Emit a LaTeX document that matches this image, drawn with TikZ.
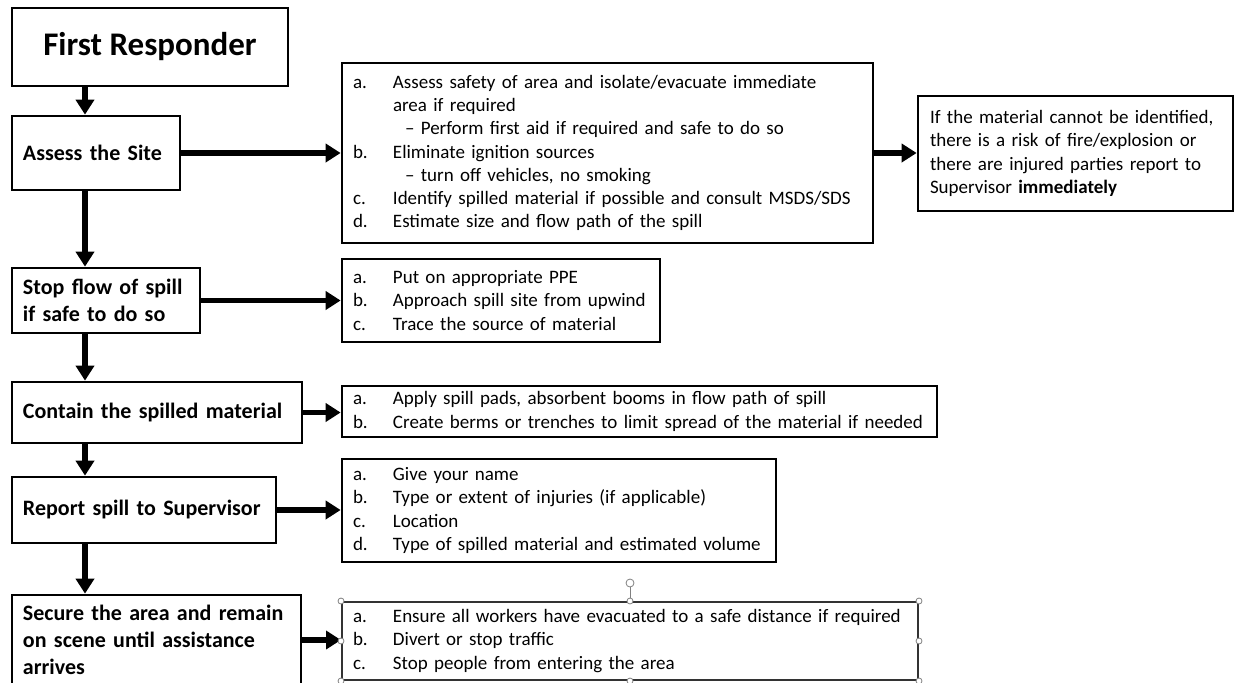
\documentclass[tikz,border=0pt]{standalone}
\usepackage{fontspec}
\setmainfont{Carlito}
\usetikzlibrary{arrows.meta,positioning}

\newcommand{\itm}[2]{\mbox{\makebox[40pt][l]{#1}#2}}
\newcommand{\cont}[1]{\mbox{\hspace*{40pt}#1}}
\newcommand{\subitm}[1]{\mbox{\hspace*{52pt}#1}}

\begin{document}
\begin{tikzpicture}[x=1pt, y=-1pt,
    stepbox/.style={rectangle, draw, line width=2.7pt, inner xsep=11pt, inner ysep=0pt, align=left, font=\fontsize{22}{27}\selectfont\bfseries},
    listbox/.style={rectangle, draw, line width=2.7pt, inner xsep=11pt, inner ysep=0pt, align=left, font=\fontsize{19}{23.3}\selectfont},
    arrow/.style={line width=5.5pt, -{Triangle[length=15pt,width=18pt]}},
    handle/.style={draw=gray, fill=white, line width=0.8pt}
]
\useasboundingbox (0,0) rectangle (1235,683);

% Steps on the left
\node[stepbox, minimum width=276pt, minimum height=78pt, align=center, font=\fontsize{33}{40}\selectfont\bfseries] (first) at (150,47) {First Responder};
\node[stepbox, text width=146pt, minimum height=74pt] (assess) at (96,153) {\mbox{Assess the Site}};
\node[stepbox, text width=166pt, minimum height=65pt] (stop) at (106,300.5) {\mbox{Stop flow of spill}\\\mbox{if safe to do so}};
\node[stepbox, text width=268pt, minimum height=61pt] (contain) at (157,412.5) {\mbox{Contain the spilled material}};
\node[stepbox, text width=242pt, minimum height=66pt] (report) at (144,510) {\mbox{Report spill to Supervisor}};
\node[stepbox, text width=267pt, minimum height=90pt] (secure) at (156.5,640) {\mbox{Secure the area and remain}\\\mbox{on scene until assistance}\\arrives};

% Details on the right
\node[listbox, text width=509pt, minimum height=180pt] (assessList) at (607.5,153) {%
    \itm{a.}{Assess safety of area and isolate/evacuate immediate}\\
    \cont{area if required}\\
    \subitm{– Perform first aid if required and safe to do so}\\
    \itm{b.}{Eliminate ignition sources}\\
    \subitm{– turn off vehicles, no smoking}\\
    \itm{c.}{Identify spilled material if possible and consult MSDS/SDS}\\
    \itm{d.}{Estimate size and flow path of the spill}};
\node[listbox, inner xsep=12pt, text width=291pt, minimum height=115pt] (info) at (1075.5,153.5) {%
    \mbox{If the material cannot be identified,}\\
    \mbox{there is a risk of fire/explosion or}\\
    \mbox{there are injured parties report to}\\
    \mbox{Supervisor \textbf{immediately}}};
\node[listbox, text width=296pt, minimum height=83pt] (stopList) at (501,300.5) {%
    \itm{a.}{Put on appropriate PPE}\\
    \itm{b.}{Approach spill site from upwind}\\
    \itm{c.}{Trace the source of material}};
\node[listbox, text width=573pt, minimum height=51pt] (containList) at (639.5,411.5) {%
    \itm{a.}{Apply spill pads, absorbent booms in flow path of spill}\\
    \itm{b.}{Create berms or trenches to limit spread of the material if needed}};
\node[listbox, text width=412pt, minimum height=103pt] (reportList) at (559,510.5) {%
    \itm{a.}{Give your name}\\
    \itm{b.}{Type or extent of injuries (if applicable)}\\
    \itm{c.}{Location}\\
    \itm{d.}{Type of spilled material and estimated volume}};
\node[listbox, line width=2pt, draw=black!80, text width=554pt, minimum height=78pt] (secureList) at (630,641) {%
    \itm{a.}{Ensure all workers have evacuated to a safe distance if required}\\
    \itm{b.}{Divert or stop traffic}\\
    \itm{c.}{Stop people from entering the area}};

% Arrows
\coordinate (spine) at (85,0);
\draw[arrow] (first.south -| spine) -- (assess.north -| spine);
\draw[arrow] (assess.south -| spine) -- (stop.north -| spine);
\draw[arrow] (stop.south -| spine) -- (contain.north -| spine);
\draw[arrow] (contain.south -| spine) -- (report.north -| spine);
\draw[arrow] (report.south -| spine) -- (secure.north -| spine);

\draw[arrow] (assess.east) -- (assess.east -| assessList.west);
\draw[arrow] (assessList.east) -- (assessList.east -| info.west);
\draw[arrow] (stop.east) -- (stop.east -| stopList.west);
\draw[arrow] (contain.east) -- (contain.east -| containList.west);
\draw[arrow] (report.east) -- (report.east -| reportList.west);
\draw[arrow] (secure.east) -- (secure.east -| secureList.west);

% Selection handles
\path (secureList.north) ++(0,-18) coordinate (rot);
\draw[handle] (secureList.north) -- (rot);
\draw[handle] (rot) circle (4pt);
\foreach \p in {north west, north, north east, east, south east, south, south west, west}
    \draw[handle] (secureList.\p) circle (3pt);

\end{tikzpicture}
\end{document}
